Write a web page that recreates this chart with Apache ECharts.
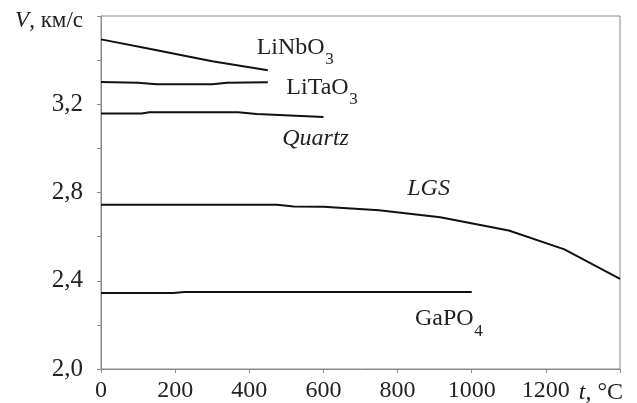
<!DOCTYPE html>
<html><head><meta charset="utf-8">
<script src="https://cdn.jsdelivr.net/npm/echarts@6/dist/echarts.min.js"></script>
<style>html,body{margin:0;padding:0;background:#fff}#c{width:637px;height:403px}</style>
</head><body><div id="c"></div>
<script>
// Data (t in °C, V in km/s)
var tLiNbO3 = [0, 120, 300, 450];
var vLiNbO3 = [3.494, 3.455, 3.395, 3.354];
var tLiTaO3 = [0, 100, 150, 300, 340, 450];
var vLiTaO3 = [3.301, 3.298, 3.291, 3.291, 3.297, 3.300];
var tQuartz = [0, 110, 130, 370, 420, 600];
var vQuartz = [3.158, 3.158, 3.164, 3.164, 3.156, 3.142];
var tLGS = [0, 475, 520, 600, 750, 915, 1100, 1250, 1400];
var vLGS = [2.744, 2.744, 2.737, 2.735, 2.720, 2.688, 2.628, 2.542, 2.409];
var tGaPO4 = [0, 195, 225, 1000];
var vGaPO4 = [2.344, 2.344, 2.349, 2.349];
var xTickLabels = ['0', '200', '400', '600', '800', '1000', '1200'];
var yTickLabels = ['2,0', '2,4', '2,8', '3,2'];

function pairs(t, v) { return t.map(function (x, i) { return [x, v[i]]; }); }
var FONT = '"Liberation Serif","Times New Roman",serif';
var chart = echarts.init(document.getElementById('c'), null, {renderer: 'canvas'});

function mkSeries(name, t, v) {
  return {name: name, type: 'line', data: pairs(t, v), symbol: 'none', smooth: false,
    lineStyle: {color: '#111', width: 2}, silent: true, animation: false};
}

chart.setOption({
  animation: false,
  grid: {left: 101, right: 17, top: 16, bottom: 34, show: true, borderColor: '#8a8a8a', borderWidth: 1},
  xAxis: {type: 'value', min: 0, max: 1400, interval: 200,
    axisLine: {lineStyle: {color: '#8a8a8a', width: 1}},
    axisTick: {show: true, length: 4, lineStyle: {color: '#8a8a8a'}},
    splitLine: {show: false},
    axisLabel: {margin: 10, color: '#222', fontFamily: FONT, fontSize: 24,
      formatter: function (v) { var i = Math.round(v / 200); return xTickLabels[i] !== undefined ? xTickLabels[i] : ''; }}
  },
  yAxis: {type: 'value', min: 2.0, max: 3.6, interval: 0.2,
    axisLine: {show: true, lineStyle: {color: '#8a8a8a', width: 1}},
    axisTick: {show: true, length: 4, lineStyle: {color: '#8a8a8a'}},
    splitLine: {show: false},
    axisLabel: {margin: 18, color: '#222', fontFamily: FONT, fontSize: 25,
      formatter: function (v) { var k = Math.round((v - 2.0) / 0.4 * 1000) / 1000; if (Math.abs(k - Math.round(k)) < 1e-6 && yTickLabels[Math.round(k)]) return yTickLabels[Math.round(k)]; return ''; }}
  },
  series: [
    mkSeries('LiNbO3', tLiNbO3, vLiNbO3),
    mkSeries('LiTaO3', tLiTaO3, vLiTaO3),
    mkSeries('Quartz', tQuartz, vQuartz),
    mkSeries('LGS', tLGS, vLGS),
    mkSeries('GaPO4', tGaPO4, vGaPO4)
  ]
});

// Annotations
var canvas = document.createElement('canvas');
var ctx = canvas.getContext('2d');
function w(text, size, italic) { ctx.font = (italic ? 'italic ' : '') + size + 'px ' + FONT; return ctx.measureText(text).width; }
var labels = [
  {text: 'LiNbO', sub: '3', t: 420, v: 3.455, italic: false},
  {text: 'LiTaO', sub: '3', t: 500, v: 3.277, italic: false},
  {text: 'Quartz', sub: '', t: 489, v: 3.042, italic: true},
  {text: 'LGS', sub: '', t: 826, v: 2.816, italic: true},
  {text: 'GaPO', sub: '4', t: 847, v: 2.226, italic: false}
];
var els = [];
labels.forEach(function (L) {
  var p = chart.convertToPixel({gridIndex: 0}, [L.t, L.v]);
  els.push({type: 'text', x: p[0], y: p[1], silent: true,
    style: {text: L.text, fill: '#222', font: (L.italic ? 'italic ' : '') + '24px ' + FONT, align: 'left', verticalAlign: 'middle'}});
  if (L.sub) {
    els.push({type: 'text', x: p[0] + w(L.text, 24, L.italic) + 0.5, y: p[1] + 12, silent: true,
      style: {text: L.sub, fill: '#222', font: '17px ' + FONT, align: 'left', verticalAlign: 'middle'}});
  }
});
// axis titles
var pT = chart.convertToPixel({gridIndex: 0}, [1400, 2.0]);
els.push({type: 'text', x: pT[0] + 3, y: pT[1] + 24, silent: true,
  style: {text: '{i|t}, °C', align: 'right', verticalAlign: 'middle', fill: '#222', font: '24px ' + FONT,
    rich: {i: {fontStyle: 'italic', fontFamily: FONT, fontSize: 24, fill: '#222'}}}});
var pV = chart.convertToPixel({gridIndex: 0}, [0, 3.6]);
els.push({type: 'text', x: pV[0] - 18, y: pV[1] + 5, silent: true,
  style: {text: '{i|V}, км/с', align: 'right', verticalAlign: 'middle', fill: '#222', font: '23px ' + FONT,
    rich: {i: {fontStyle: 'italic', fontFamily: FONT, fontSize: 23, fill: '#222'}}}});
chart.setOption({graphic: {elements: els}});
</script></body></html>
